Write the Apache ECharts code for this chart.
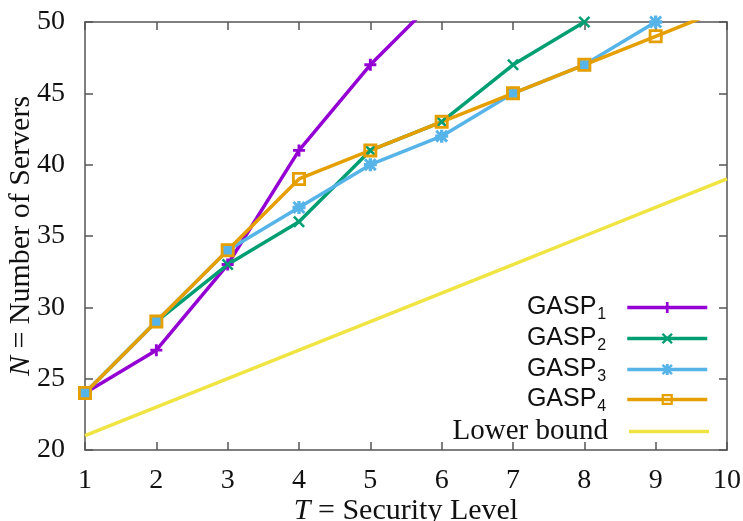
<!DOCTYPE html>
<html><head><meta charset="utf-8">
<script src="https://cdn.jsdelivr.net/npm/echarts@6/dist/echarts.min.js"></script>
<style>html,body{margin:0;padding:0;background:#fff}#c{width:743px;height:521px}</style>
</head><body><div id="c"></div>
<script>
const T = [1, 2, 3, 4, 5, 6, 7, 8, 9, 10];
const gasp1 = [24, 27, 33, 41, 47, 52];
const gasp2 = [24, 29, 33, 36, 41, 43, 47, 50];
const gasp3 = [24, 29, 34, 37, 40, 42, 45, 47, 50];
const gasp4 = [24, 29, 34, 39, 41, 43, 45, 47, 49, 51];
const lowerBound = [21, 23, 25, 27, 29, 31, 33, 35, 37, 39];
const xTicks = [1, 2, 3, 4, 5, 6, 7, 8, 9, 10];
const yTicks = [20, 25, 30, 35, 40, 45, 50];

const pairs = ys => ys.map((y, i) => [T[i], y]);

const SYM_PLUS = 'path://M3.8,0H6.2V3.8H10V6.2H6.2V10H3.8V6.2H0V3.8H3.8Z';
const SYM_CROSS = 'path://M0,1.5L1.5,0L5,3.5L8.5,0L10,1.5L6.5,5L10,8.5L8.5,10L5,6.5L1.5,10L0,8.5L3.5,5Z';
const SYM_STAR = 'path://M3.7,0H6.3V3.7H10V6.3H6.3V10H3.7V6.3H0V3.7H3.7Z M0,1.6L1.6,0L5,3.4L8.4,0L10,1.6L6.6,5L10,8.4L8.4,10L5,6.6L1.6,10L0,8.4L3.4,5Z';
const SYM_SQ = 'path://M0,0H10V10H0Z M2,2V8H8V2Z';

const colors = ['#9400d3', '#009e73', '#56b4e9', '#e69f00', '#f0e442'];
const names = ['GASP1', 'GASP2', 'GASP3', 'GASP4', 'Lower bound'];
const labels = ['{a|GASP}{s|1}', '{a|GASP}{s|2}', '{a|GASP}{s|3}', '{a|GASP}{s|4}', '{b|Lower bound}'];
const legendCenters = [307, 338, 369, 399, 429];

const serif = 'Liberation Serif';
const sans = 'Liberation Sans';
const rich = {
  a: {fontFamily: sans, fontSize: 25, color: '#111', lineHeight: 30},
  s: {fontFamily: sans, fontSize: 16, color: '#111', lineHeight: 30, verticalAlign: 'bottom', padding: [0, 0, 0, 1]},
  b: {fontFamily: serif, fontSize: 29, color: '#111', lineHeight: 30}
};

const axisLine = {show: true, lineStyle: {color: '#555', width: 1.5}};
const axisTick = {show: true, inside: true, length: 8, lineStyle: {color: '#555', width: 1.5}};

const chart = echarts.init(document.getElementById('c'), null, {renderer: 'canvas'});
const series = [
  {name: names[0], data: pairs(gasp1), symbol: SYM_PLUS, symbolSize: 12},
  {name: names[1], data: pairs(gasp2), symbol: SYM_CROSS, symbolSize: 12},
  {name: names[2], data: pairs(gasp3), symbol: SYM_STAR, symbolSize: 13},
  {name: names[3], data: pairs(gasp4), symbol: SYM_SQ, symbolSize: 14},
  {name: names[4], data: pairs(lowerBound), symbol: 'none'}
].map((s, i) => Object.assign({
  type: 'line', clip: true, showAllSymbol: true,
  lineStyle: {color: colors[i], width: 3.5},
  itemStyle: {color: colors[i]},
  emphasis: {disabled: true},
  animation: false
}, s));

const legends = names.map((n, i) => {
  const isLB = i === 4;
  return {
    data: isLB ? [{name: n, icon: 'rect'}] : [n],
    right: 34, top: legendCenters[i] - 12, orient: 'vertical', align: 'right',
    padding: 0,
    itemWidth: 80, itemHeight: isLB ? 3.5 : 14, selectedMode: false,
    lineStyle: {width: 3.5},
    formatter: labels[i],
    textStyle: {rich: rich, padding: [0, 16, 0, 0]}
  };
});

const nameRich = {i: {fontFamily: serif, fontStyle: 'italic', fontSize: 30, color: '#111'}};

chart.setOption({
  backgroundColor: '#fff',
  animation: false,
  grid: {left: 85, right: 16, top: 22, bottom: 71, outerBoundsMode: 'none', containLabel: false},
  legend: legends,
  xAxis: [{
    type: 'value', min: 1, max: 10, interval: 1,
    axisLine, axisTick, splitLine: {show: false},
    axisLabel: {fontFamily: serif, fontSize: 28, color: '#111', margin: 17},
    name: '{i|T} = Security Level', nameLocation: 'middle', nameGap: 46, nameMoveOverlap: false,
    nameTextStyle: {fontFamily: serif, fontSize: 30, color: '#111', rich: nameRich}
  }, {
    type: 'value', min: 1, max: 10, interval: 1, position: 'top',
    axisLine, axisTick, axisLabel: {show: false}, splitLine: {show: false}
  }],
  yAxis: [{
    type: 'value', min: 20, max: 50, interval: 5,
    axisLine, axisTick, splitLine: {show: false},
    axisLabel: {fontFamily: serif, fontSize: 28, color: '#111', margin: 20},
    name: '{i|N} = Number of Servers', nameLocation: 'middle', nameGap: 49, nameMoveOverlap: false,
    nameTextStyle: {fontFamily: serif, fontSize: 30, color: '#111', rich: nameRich}
  }, {
    type: 'value', min: 20, max: 50, interval: 5, position: 'right',
    axisLine, axisTick, axisLabel: {show: false}, splitLine: {show: false}
  }],
  series: series
});
</script></body></html>
